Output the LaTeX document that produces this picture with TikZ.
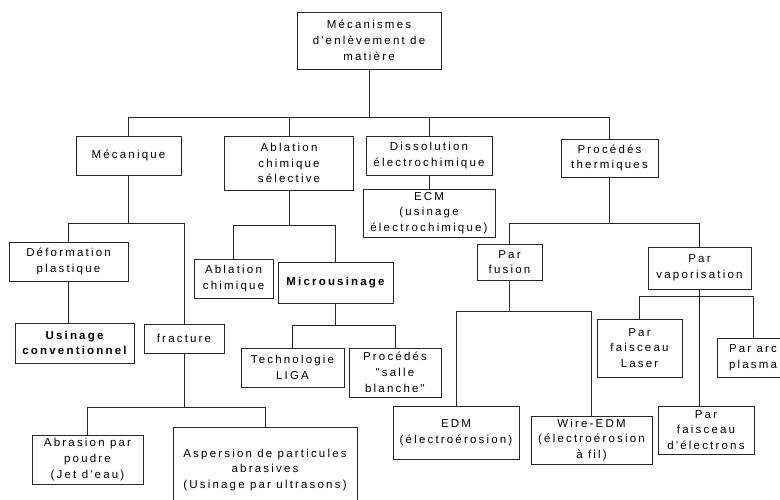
\documentclass[tikz,border=0pt]{standalone}
\usepackage{fontspec}
\newfontfamily\diafont[LetterSpace=19]{Liberation Sans}
\begin{document}
\begin{tikzpicture}[x=1pt,y=-1pt,
  box/.style={draw=black!85, line width=0.8pt, inner sep=0pt, align=center, fill=white,
    font=\diafont\fontsize{11.5}{15.7}\selectfont},
  ln/.style={draw=black!85, line width=0.8pt}]
\useasboundingbox (0,0) rectangle (780,500);
\clip (0,0) rectangle (780,500);
\fill[white] (0,0) rectangle (780,500);
% nodes
\node[box, minimum width=144pt, minimum height=57pt] (root) at (369,40.5) {Mécanismes\\d'enlèvement de\\matière};
\node[box, minimum width=105pt, minimum height=39pt] (mec) at (128.5,155.5) {Mécanique};
\node[box, minimum width=129pt, minimum height=54pt] (abl) at (289,163) {Ablation\\chimique\\sélective};
\node[box, minimum width=126pt, minimum height=39pt] (dis) at (429,155.5) {Dissolution\\électrochimique};
\node[box, minimum width=97pt, minimum height=38pt] (pth) at (609.5,158) {Procédés\\thermiques};
\node[box, minimum width=132pt, minimum height=48pt] (ecm) at (429,213) {ECM\\(usinage\\électrochimique)};
\node[box, minimum width=119pt, minimum height=39pt] (def) at (68.5,261.5) {Déformation\\plastique};
\node[box, minimum width=119pt, minimum height=40pt] (usi) at (74.5,343) {\bfseries Usinage\\\bfseries conventionnel};
\node[box, minimum width=80pt, minimum height=29pt] (fra) at (184,338.5) {fracture};
\node[box, minimum width=111pt, minimum height=49pt] (abr) at (87.5,459.5) {Abrasion par\\poudre\\(Jet d'eau)};
\node[box, minimum width=184pt, minimum height=86pt] (asp) at (265,470) {Aspersion de particules\\abrasives\\(Usinage par ultrasons)};
\node[box, minimum width=79pt, minimum height=39pt] (abc) at (233.5,278.5) {Ablation\\chimique};
\node[box, minimum width=115pt, minimum height=41pt] (mic) at (335.5,282.5) {\bfseries Microusinage};
\node[box, minimum width=103pt, minimum height=39pt] (liga) at (292.5,367.5) {Technologie\\LIGA};
\node[box, minimum width=92pt, minimum height=49pt] (sal) at (395,372.5) {Procédés\\"salle\\blanche"};
\node[box, minimum width=65pt, minimum height=36pt] (fus) at (509.5,262) {Par\\fusion};
\node[box, minimum width=103pt, minimum height=42pt] (vap) at (699.5,268) {Par\\vaporisation};
\node[box, minimum width=126pt, minimum height=53pt] (edm) at (456,432.5) {EDM\\(électroérosion)};
\node[box, minimum width=121pt, minimum height=48pt] (wed) at (591.5,440) {Wire-EDM\\(électroérosion\\à fil)};
\node[box, minimum width=85pt, minimum height=58pt] (las) at (639.5,348) {Par\\faisceau\\Laser};
\node[box, minimum width=72pt, minimum height=39pt] (arc) at (753,357.5) {Par arc\\plasma};
\node[box, minimum width=96pt, minimum height=48pt] (ele) at (706,430) {Par\\faisceau\\d'électrons};
% connectors
\draw[ln] (root.south) -- (root.south |- 0,117) coordinate (rb) -| (mec.north);
\draw[ln] (rb) -| (abl.north);
\draw[ln] (rb) -| (dis.north);
\draw[ln] (rb) -| (pth.north);
\draw[ln] (dis.south) -- (ecm.north);
\draw[ln] (mec.south) -- (mec.south |- 0,223) coordinate (mb) -| (def.north);
\draw[ln] (mb) -| (fra.north);
\draw[ln] (def.south) -- (def.south |- usi.north);
\draw[ln] (fra.south) -- (fra.south |- 0,407) coordinate (fb) -| (abr.north);
\draw[ln] (fb) -| (asp.north);
\draw[ln] (abl.south) -- (abl.south |- 0,225) coordinate (ab) -| (abc.north);
\draw[ln] (ab) -| (mic.north);
\draw[ln] (mic.south) -- (mic.south |- 0,325) coordinate (mib) -| (liga.north);
\draw[ln] (mib) -| (sal.north);
\draw[ln] (pth.south) -- (pth.south |- 0,223) coordinate (pb) -| (fus.north);
\draw[ln] (pb) -| (vap.north);
\draw[ln] (fus.south) -- (fus.south |- 0,311) coordinate (fub) -| (edm.north);
\draw[ln] (fub) -| (wed.north);
\draw[ln] (vap.south) -- (vap.south |- ele.north);
\draw[ln] (vap.south) -- (vap.south |- 0,296) coordinate (vb) -| (las.north);
\draw[ln] (vb) -| (arc.north);
\end{tikzpicture}
\end{document}
